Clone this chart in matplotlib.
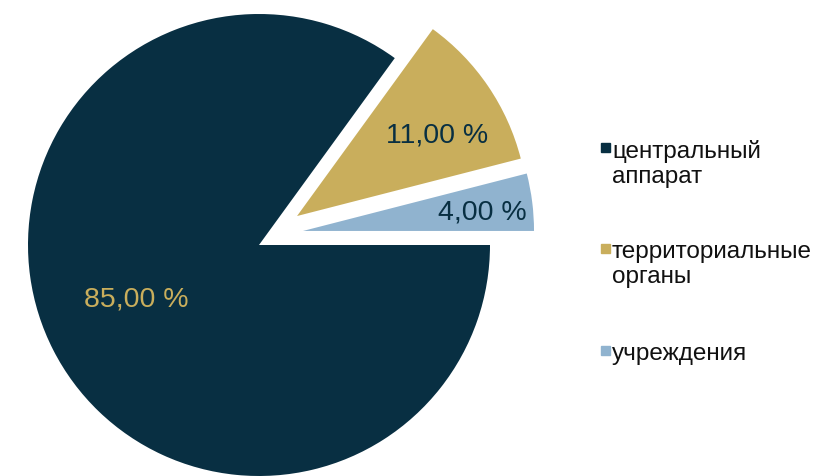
import matplotlib
matplotlib.use("Agg")
import matplotlib.pyplot as plt
import numpy as np
from matplotlib.patches import Rectangle

plt.rcParams["font.family"] = ["Liberation Sans", "DejaVu Sans"]

# data
categories = ["центральный\nаппарат", "территориальные\nорганы", "учреждения"]
shares = [85.0, 11.0, 4.0]
colors = ["#082f42", "#c9ae5c", "#90b3cf"]
label_colors = ["#c9ae5c", "#082f42", "#082f42"]

# how far / which way each slice is pulled out (the original isn't along the bisector)
explode = [0.0, 0.207, 0.20]
explode_dir = [0.0, 37.3, 17.7]
label_dist = [0.58, 0.70, 0.78]
label_turn = [-3.3, -4.0, -0.9]

W, H = 815, 477
fig = plt.figure(figsize=(W / 100, H / 100), dpi=100)
ax = fig.add_axes([0, 0, 1, 1])

# pie centre / radius in pixels
cx, cy, r = 259, 231, 231

wedges, _ = ax.pie(shares, colors=colors, startangle=0,
                   counterclock=False, radius=1.0, frame=True)
ax.set_xlim(-cx / r, (W - cx) / r)
ax.set_ylim(-cy / r, (H - cy) / r)
ax.axis("off")

for w, e, a in zip(wedges, explode, explode_dir):
    a = np.deg2rad(a)
    w.set_center((e * np.cos(a), e * np.sin(a)))

for w, val, d, t, lc in zip(wedges, shares, label_dist, label_turn, label_colors):
    ang = np.deg2rad((w.theta1 + w.theta2) / 2 + t)
    x0, y0 = w.center
    ax.text(x0 + d * np.cos(ang), y0 + d * np.sin(ang),
            f"{val:.2f}".replace(".", ",") + " %",
            ha="center", va="center", fontsize=20.5, color=lc)

# legend drawn by hand so the marker sits on the first text line
leg_x = 612 / W
leg_y = [150, 251, 353]
for lab, col, y in zip(categories, colors, leg_y):
    fig.patches.append(Rectangle((601 / W, (H - y - 3) / H), 9 / W, 9 / H,
                                 transform=fig.transFigure, color=col))
    fig.text(leg_x, (H - y + 10) / H, lab, ha="left", va="top",
             fontsize=17.5, color="#111111", linespacing=1.15)

fig.savefig("out.png", dpi=100)
